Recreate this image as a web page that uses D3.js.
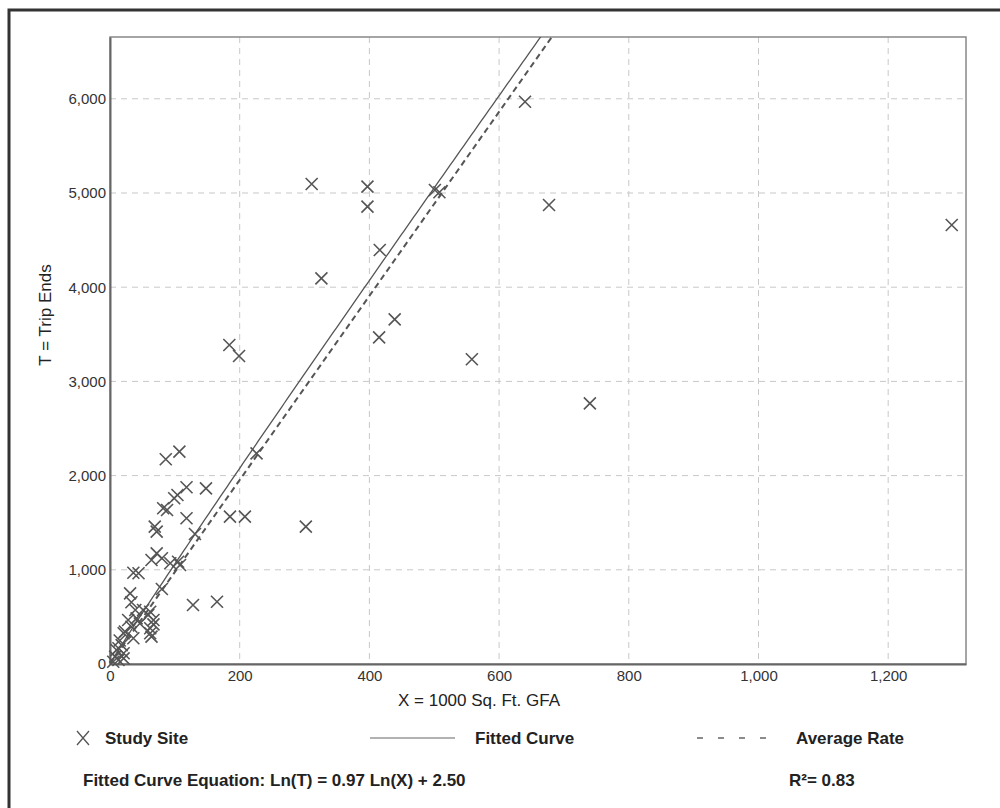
<!DOCTYPE html>
<html lang="en">
<head>
<meta charset="utf-8">
<title>Trip Ends vs GFA</title>
<script src="https://d3js.org/d3.v7.min.js"></script>
<style>
body { margin: 0; background: #fff; }
svg { font-family: "Liberation Sans", Arial, sans-serif; }
.grid line { stroke: #c8c8c8; stroke-dasharray: 6,5; }
.tick text { fill: #333; font-size: 15px; }
.legend { font-size: 17px; font-weight: bold; fill: #222; }
</style>
</head>
<body>
<svg width="1000" height="808"></svg>
<script>

// study sites: [X = 1000 sq ft GFA, T = trip ends]
var siteX = [311, 397, 397, 501, 508, 640, 677, 1298, 416, 326, 439, 415, 558, 740,
  184, 199, 226, 302, 185, 208, 86, 107, 104, 99, 118, 148, 82, 88, 118, 69, 72, 131,
  72, 64, 80, 93, 105, 108, 36, 44, 80, 31, 128, 165, 33, 39, 51, 62, 59, 67, 28, 41,
  33, 62, 67, 21, 62, 64, 36, 15, 23, 46, 10, 21, 13, 8, 13, 5, 21, 18];
var siteT = [5096, 5067, 4855, 5032, 5008, 5969, 4873, 4660, 4395, 4094, 3659, 3468, 3235, 2767,
  3386, 3270, 2236, 1458, 1564, 1564, 2173, 2254, 1794, 1760, 1876, 1865, 1653, 1635, 1547, 1458, 1405, 1380,
  1175, 1104, 1122, 1069, 1086, 1051, 969, 963, 796, 750, 626, 661, 655, 573, 573, 555, 520, 467, 467, 485,
  396, 379, 420, 326, 326, 290, 273, 250, 343, 430, 149, 114, 167, 78, 42, 24, 60, 200];

var xTicks = [0, 200, 400, 600, 800, 1000, 1200];
var yTicks = [0, 1000, 2000, 3000, 4000, 5000, 6000];

// Ln(T) = 0.97 Ln(X) + 2.50
var fitSlope = 0.97, fitIntercept = 2.50;
var avgRate = 9.77;
var rSquared = 0.83;

var svg = d3.select("svg");

// outer frame
svg.append("path")
    .attr("d", "M9,808V10H1000")
    .attr("fill", "none")
    .attr("stroke", "#333")
    .attr("stroke-width", 3);

var margin = {top: 37, left: 110};
var width = 856, height = 627;

var x = d3.scaleLinear().domain([0, 1320]).range([0, width]);
var y = d3.scaleLinear().domain([0, 6656]).range([height, 0]);

var g = svg.append("g").attr("transform", `translate(${margin.left}, ${margin.top})`);

g.append("defs").append("clipPath").attr("id", "plot")
  .append("rect").attr("width", width).attr("height", height);

// grid
g.append("g").attr("class", "grid")
  .selectAll("line").data(xTicks.slice(1)).join("line")
    .attr("x1", d => x(d)).attr("x2", d => x(d))
    .attr("y1", 0).attr("y2", height);
g.append("g").attr("class", "grid")
  .selectAll("line").data(yTicks.slice(1)).join("line")
    .attr("x1", 0).attr("x2", width)
    .attr("y1", d => y(d)).attr("y2", d => y(d));

// frame
g.append("rect")
    .attr("width", width).attr("height", height)
    .attr("fill", "none").attr("stroke", "#888").attr("stroke-width", 1.5);

var xAxis = g.append("g")
    .attr("transform", `translate(0, ${height})`)
    .call(d3.axisBottom(x).tickValues(xTicks).tickSize(0).tickPadding(6).tickFormat(d3.format(",")));
var yAxis = g.append("g")
    .call(d3.axisLeft(y).tickValues(yTicks).tickSize(0).tickPadding(4).tickFormat(d3.format(",")));
[xAxis, yAxis].forEach(a => a.select(".domain").attr("stroke", "#666").attr("stroke-width", 2));

// lines
var fitPts = d3.range(1, 1321, 4).map(v => [v, Math.exp(fitIntercept + fitSlope * Math.log(v))]);
var line = d3.line().x(d => x(d[0])).y(d => y(d[1]));

var lines = g.append("g").attr("clip-path", "url(#plot)");
lines.append("path")
    .datum(fitPts)
    .attr("d", line)
    .attr("fill", "none").attr("stroke", "#555").attr("stroke-width", 1.3);
lines.append("path")
    .datum([[0, 0], [1320, 1320 * avgRate]])
    .attr("d", line)
    .attr("fill", "none").attr("stroke", "#555").attr("stroke-width", 2)
    .attr("stroke-dasharray", "6,4");

// points
var cross = "M-6,-6L6,6M-6,6L6,-6";
g.append("g")
  .selectAll("path").data(d3.range(siteX.length)).join("path")
    .attr("transform", i => `translate(${x(siteX[i])}, ${y(siteT[i])})`)
    .attr("d", cross)
    .attr("stroke", "#555").attr("stroke-width", 1.6).attr("fill", "none");

// axis titles
svg.append("text")
    .attr("x", 479).attr("y", 706)
    .attr("text-anchor", "middle")
    .attr("font-size", 17).attr("fill", "#222")
    .text("X = 1000 Sq. Ft. GFA");
svg.append("text")
    .attr("transform", "translate(51, 315) rotate(-90)")
    .attr("text-anchor", "middle")
    .attr("font-size", 17).attr("fill", "#222")
    .text("T = Trip Ends");

// legend
var ly = 738;
svg.append("path")
    .attr("transform", `translate(83, ${ly})`)
    .attr("d", "M-6,-7L6,7M-6,7L6,-7")
    .attr("stroke", "#555").attr("stroke-width", 1.3).attr("fill", "none");
svg.append("text").attr("class", "legend").attr("x", 105).attr("y", ly + 6).text("Study Site");
svg.append("line").attr("x1", 370).attr("x2", 455).attr("y1", ly).attr("y2", ly)
    .attr("stroke", "#999").attr("stroke-width", 1.3);
svg.append("text").attr("class", "legend").attr("x", 475).attr("y", ly + 6).text("Fitted Curve");
svg.append("line").attr("x1", 697).attr("x2", 766).attr("y1", ly).attr("y2", ly)
    .attr("stroke", "#666").attr("stroke-width", 1.5).attr("stroke-dasharray", "6,15");
svg.append("text").attr("class", "legend").attr("x", 796).attr("y", ly + 6).text("Average Rate");

svg.append("text").attr("class", "legend").attr("x", 83).attr("y", 786)
    .attr("font-size", 16)
    .text(`Fitted Curve Equation: Ln(T) = ${fitSlope.toFixed(2)} Ln(X) + ${fitIntercept.toFixed(2)}`);
svg.append("text").attr("class", "legend").attr("x", 789).attr("y", 786)
    .attr("font-size", 16)
    .text(`R²= ${rSquared.toFixed(2)}`);

</script>
</body>
</html>
